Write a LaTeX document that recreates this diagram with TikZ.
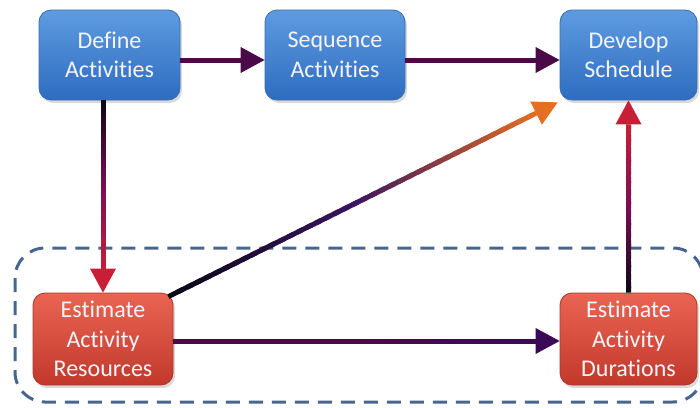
\documentclass[tikz,border=0pt]{standalone}
\usepackage{fontspec}
\setmainfont{Carlito}[Ligatures={NoCommon}]
\usetikzlibrary{calc,shadows}

\definecolor{boxblueT}{HTML}{5E9BE0}
\definecolor{boxblueB}{HTML}{2E6CC0}
\definecolor{boxblueD}{HTML}{3A6DB0}
\definecolor{boxredT}{HTML}{EA6452}
\definecolor{boxredB}{HTML}{C2392C}
\definecolor{boxredD}{HTML}{A8372C}
\definecolor{frameblue}{HTML}{46668F}
\definecolor{labeltext}{HTML}{F4F4FA}
\definecolor{arrPurple}{HTML}{4A0A48}
\definecolor{arrViolet}{HTML}{3A0A55}
\definecolor{arrBlack}{HTML}{0A0814}
\definecolor{arrMagenta}{HTML}{7A0C55}
\definecolor{arrRed}{HTML}{C81E36}
\definecolor{arrDeep}{HTML}{3A1460}
\definecolor{arrOrange}{HTML}{E46E22}

% arrow whose shaft fades through three colours; the head takes the last one
\newcommand\gradarrow[5]{%
  \path (#1) coordinate (ga-s) (#2) coordinate (ga-e);
  \path ($(ga-e)!24pt!(ga-s)$) coordinate (ga-b);
  \foreach \k in {1,...,40}{%
    \pgfmathsetmacro\ta{(\k-1)/40}%
    \pgfmathsetmacro\tb{min(1,(\k+0.6)/40)}%
    \pgfmathsetmacro\tm{(\k-0.5)/40}%
    \ifdim\tm pt<0.5pt
      \pgfmathsetmacro\pc{100-200*\tm}%
      \colorlet{ga-c}{#3!\pc!#4}%
    \else
      \pgfmathsetmacro\pc{200-200*\tm}%
      \colorlet{ga-c}{#4!\pc!#5}%
    \fi
    \draw[ga-c, line width=5pt] ($(ga-s)!\ta!(ga-b)$) -- ($(ga-s)!\tb!(ga-b)$);
  }
  \fill[#5] (ga-e) -- ($(ga-b)!13pt!90:(ga-e)$) -- ($(ga-b)!13pt!-90:(ga-e)$) -- cycle;
}

\tikzset{
  task/.style={rounded corners=12pt, minimum height=90pt, align=center,
    text=labeltext, line width=0.8pt, inner sep=0pt,
    font=\fontsize{24}{29.5}\selectfont,
    drop shadow={shadow xshift=2pt, shadow yshift=-3pt, opacity=0.3}},
  bluebox/.style={task, draw=boxblueD, top color=boxblueT, bottom color=boxblueB},
  redbox/.style={task, draw=boxredD, top color=boxredT, bottom color=boxredB},
  groupframe/.style={draw=frameblue, line width=3pt, dash pattern=on 14pt off 9pt,
    rounded corners=30pt},
}

\begin{document}
\begin{tikzpicture}[x=1pt, y=-1pt]
  \useasboundingbox (0,0) rectangle (700,407);

  % dashed group around the two estimating steps
  \draw[groupframe] (15,248) rectangle (703,402);

  % process steps
  \node[bluebox, minimum width=141pt] (def) at (109.5,55) {Define\\Activities};
  \node[bluebox, minimum width=140pt] (seq) at (335,55) {Sequence\\Activities};
  \node[bluebox, minimum width=137pt] (dev) at (628.5,55) {Develop\\Schedule};
  \node[redbox, minimum width=140pt, minimum height=92pt] (res) at (103,339) {Estimate\\Activity\\Resources};
  \node[redbox, minimum width=137pt, minimum height=92pt] (dur) at (628.5,339) {Estimate\\Activity\\Durations};

  % connectors
  \coordinate (c1) at ($(def.east)+(0,5)$);
  \coordinate (c2) at ($(seq.west)+(0,5)$);
  \coordinate (c3) at ($(seq.east)+(0,5)$);
  \coordinate (c4) at ($(dev.west)+(0,5)$);
  \coordinate (c5) at (res.north |- def.south);
  \coordinate (c6) at ($(res.east)+(0,2)$);
  \coordinate (c7) at ($(dur.west)+(0,2)$);
  \coordinate (c8) at ($(res.north east)+(-5,4)$);
  \coordinate (c9) at ($(dev.south west)+(-2,2)$);

  \gradarrow{c1}{c2}{arrPurple}{arrPurple}{arrPurple}
  \gradarrow{c3}{c4}{arrPurple}{arrPurple}{arrPurple}
  \gradarrow{c5}{res.north}{arrBlack}{arrMagenta}{arrRed}
  \gradarrow{c6}{c7}{arrPurple}{arrPurple}{arrViolet}
  \gradarrow{c8}{c9}{arrBlack}{arrDeep}{arrOrange}
  \gradarrow{dur.north}{dev.south}{arrBlack}{arrMagenta}{arrRed}
\end{tikzpicture}
\end{document}
